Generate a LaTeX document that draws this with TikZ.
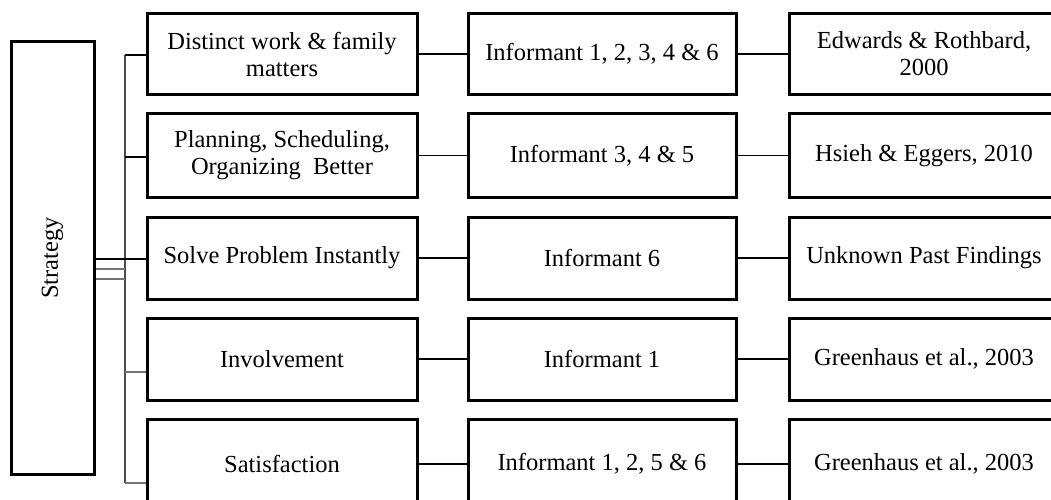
\documentclass[tikz,border=0pt]{standalone}
\usepackage{fontspec}
\setmainfont{Liberation Serif}
\begin{document}
\begin{tikzpicture}[x=1pt,y=-1pt,
  box/.style={draw, line width=3pt, inner sep=0pt, align=center,
    minimum width=270pt, minimum height=81pt, font=\fontsize{24.5}{27}\selectfont},
  link/.style={line width=1.3pt},
  glink/.style={line width=1.3pt, draw=black!55}]
\useasboundingbox (0,0) rectangle (1051,500);
\clip (0,0) rectangle (1051,500);
% strategy
\node[draw, line width=3pt, minimum width=83pt, minimum height=432pt, inner sep=0pt] (s) at (52.5,258) {};
\node[rotate=90, font=\fontsize{24.5}{27}\selectfont] (st) at (s.center) {Strategy};
% left column
\node[box] (l1) at (282,54) {Distinct work \& family\\matters};
\node[box, minimum height=83pt] (l2) at (282,155.5) {Planning, Scheduling,\\Organizing\ \ Better};
\node[box, minimum height=82pt] (l3) at (282,258) {Solve Problem Instantly};
\node[box, minimum height=82pt] (l4) at (282,359) {Involvement};
\node[box, minimum height=90pt] (l5) at (282,464) {Satisfaction};
% middle column
\node[box, minimum width=268pt] (m1) at (602,54) {Informant 1, 2, 3, 4 \& 6};
\node[box, minimum width=268pt, minimum height=83pt] (m2) at (602,155.5) {Informant 3, 4 \& 5};
\node[box, minimum width=268pt, minimum height=82pt] (m3) at (602,258) {Informant 6};
\node[box, minimum width=268pt, minimum height=82pt] (m4) at (602,359) {Informant 1};
\node[box, minimum width=268pt, minimum height=90pt] (m5) at (602,464) {Informant 1, 2, 5 \& 6};
% right column
\node[box] (r1) at (924,54) {Edwards \& Rothbard,\\2000};
\node[box, minimum height=83pt] (r2) at (924,155.5) {Hsieh \& Eggers, 2010};
\node[box, minimum height=82pt] (r3) at (924,258) {Unknown Past Findings};
\node[box, minimum height=82pt] (r4) at (924,359) {Greenhaus et al., 2003};
\node[box, minimum height=90pt] (r5) at (924,464) {Greenhaus et al., 2003};
% bus
\coordinate (b1) at (125,55);
\coordinate (b2) at (125,157);
\coordinate (b3) at (125,259);
\coordinate (b4) at (125,372);
\coordinate (b5) at (125,483);
\coordinate (sa) at (125,259);
\coordinate (sb) at (125,269);
\coordinate (sc) at (125,279);
\draw[glink, draw=black!70] (b1) -- (b5);
\draw[link] (b1) -- (l1.west |- b1);
\draw[link] (b2) -- (l2.west |- b2);
\draw[link] (b3) -- (l3.west |- b3);
\draw[glink] (b4) -- (l4.west |- b4);
\draw[glink] (b5) -- (l5.west |- b5);
\draw[link] (s.east |- sa) -- (sa);
\draw[glink] (s.east |- sb) -- (sb);
\draw[glink] (s.east |- sc) -- (sc);
% row connectors
\foreach \i in {1,...,5}{
  \draw[link] (l\i.east) -- (m\i.west);
  \draw[link] (m\i.east) -- (r\i.west);
}
\end{tikzpicture}
\end{document}
